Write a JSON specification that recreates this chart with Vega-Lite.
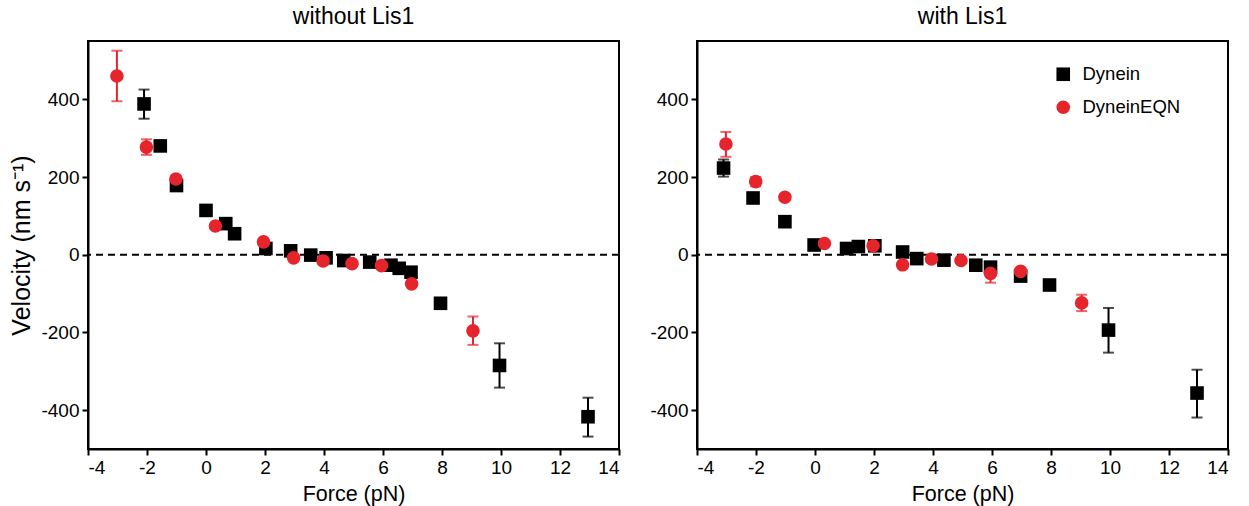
{
  "$schema": "https://vega.github.io/schema/vega-lite/v6.json",
  "padding": {"left": 8, "top": 5, "right": 5, "bottom": 5},
  "background": "white",
  "config": {
    "font": "Liberation Sans",
    "view": {"stroke": "#000", "strokeWidth": 2},
    "axis": {"domainColor": "#000", "domainWidth": 2, "tickColor": "#000", "tickWidth": 2, "tickSize": 6, "labelColor": "#000", "labelFontSize": 19, "labelFont": "Liberation Sans", "titleColor": "#000", "titleFont": "Liberation Sans", "titleFontWeight": "normal", "grid": false, "labelPadding": 3, "labelExpr": "replace(datum.label, '−', '-')"},
    "title": {"fontSize": 23, "fontWeight": "normal", "color": "#000", "font": "Liberation Sans", "offset": 12},
    "legend": {"labelFont": "Liberation Sans", "labelFontSize": 18.5, "labelColor": "#000"}
  },
  "datasets": {
    "without": [
      {"series": "Dynein", "force": -2.1, "velocity": 388, "lo": 350, "hi": 425},
      {"series": "Dynein", "force": -1.55, "velocity": 280, "lo": 268, "hi": 292},
      {"series": "Dynein", "force": -1.0, "velocity": 178, "lo": 170, "hi": 186},
      {"series": "Dynein", "force": 0.0, "velocity": 114, "lo": 107, "hi": 121},
      {"series": "Dynein", "force": 0.67, "velocity": 80, "lo": 74, "hi": 86},
      {"series": "Dynein", "force": 0.97, "velocity": 54, "lo": 48, "hi": 60},
      {"series": "Dynein", "force": 2.03, "velocity": 16, "lo": 10, "hi": 22},
      {"series": "Dynein", "force": 2.87, "velocity": 10, "lo": 4, "hi": 16},
      {"series": "Dynein", "force": 3.55, "velocity": -1, "lo": -7, "hi": 5},
      {"series": "Dynein", "force": 4.07, "velocity": -8, "lo": -14, "hi": -2},
      {"series": "Dynein", "force": 4.67, "velocity": -15, "lo": -21, "hi": -9},
      {"series": "Dynein", "force": 5.55, "velocity": -19, "lo": -25, "hi": -13},
      {"series": "Dynein", "force": 6.27, "velocity": -27, "lo": -33, "hi": -21},
      {"series": "Dynein", "force": 6.55, "velocity": -35, "lo": -41, "hi": -29},
      {"series": "Dynein", "force": 6.95, "velocity": -45, "lo": -52, "hi": -38},
      {"series": "Dynein", "force": 7.95, "velocity": -125, "lo": -131, "hi": -119},
      {"series": "Dynein", "force": 9.95, "velocity": -285, "lo": -342, "hi": -228},
      {"series": "Dynein", "force": 12.95, "velocity": -417, "lo": -468, "hi": -368},
      {"series": "DyneinEQN", "force": -3.02, "velocity": 460, "lo": 395, "hi": 525},
      {"series": "DyneinEQN", "force": -2.02, "velocity": 277, "lo": 257, "hi": 297},
      {"series": "DyneinEQN", "force": -1.02, "velocity": 195, "lo": 187, "hi": 203},
      {"series": "DyneinEQN", "force": 0.32, "velocity": 74, "lo": 68, "hi": 80},
      {"series": "DyneinEQN", "force": 1.95, "velocity": 33, "lo": 27, "hi": 39},
      {"series": "DyneinEQN", "force": 2.97, "velocity": -8, "lo": -14, "hi": -2},
      {"series": "DyneinEQN", "force": 3.97, "velocity": -16, "lo": -22, "hi": -10},
      {"series": "DyneinEQN", "force": 4.95, "velocity": -23, "lo": -29, "hi": -17},
      {"series": "DyneinEQN", "force": 5.95, "velocity": -28, "lo": -34, "hi": -22},
      {"series": "DyneinEQN", "force": 6.97, "velocity": -75, "lo": -81, "hi": -69},
      {"series": "DyneinEQN", "force": 9.05, "velocity": -196, "lo": -232, "hi": -159}
    ],
    "with": [
      {"series": "Dynein", "force": -3.1, "velocity": 223, "lo": 201, "hi": 245},
      {"series": "Dynein", "force": -2.1, "velocity": 146, "lo": 136, "hi": 156},
      {"series": "Dynein", "force": -1.02, "velocity": 85, "lo": 73, "hi": 97},
      {"series": "Dynein", "force": -0.03, "velocity": 25, "lo": 18, "hi": 32},
      {"series": "Dynein", "force": 1.07, "velocity": 16, "lo": 10, "hi": 22},
      {"series": "Dynein", "force": 1.47, "velocity": 21, "lo": 15, "hi": 27},
      {"series": "Dynein", "force": 2.03, "velocity": 23, "lo": 11, "hi": 35},
      {"series": "Dynein", "force": 2.97, "velocity": 7, "lo": 0, "hi": 14},
      {"series": "Dynein", "force": 3.45, "velocity": -10, "lo": -16, "hi": -4},
      {"series": "Dynein", "force": 4.37, "velocity": -14, "lo": -20, "hi": -8},
      {"series": "Dynein", "force": 5.45, "velocity": -27, "lo": -33, "hi": -21},
      {"series": "Dynein", "force": 5.95, "velocity": -32, "lo": -38, "hi": -26},
      {"series": "Dynein", "force": 6.97, "velocity": -55, "lo": -61, "hi": -49},
      {"series": "Dynein", "force": 7.95, "velocity": -78, "lo": -86, "hi": -70},
      {"series": "Dynein", "force": 9.95, "velocity": -194, "lo": -252, "hi": -137},
      {"series": "Dynein", "force": 12.95, "velocity": -356, "lo": -419, "hi": -296},
      {"series": "DyneinEQN", "force": -3.02, "velocity": 285, "lo": 252, "hi": 316},
      {"series": "DyneinEQN", "force": -2.01, "velocity": 188, "lo": 176, "hi": 200},
      {"series": "DyneinEQN", "force": -1.02, "velocity": 148, "lo": 140, "hi": 156},
      {"series": "DyneinEQN", "force": 0.32, "velocity": 29, "lo": 23, "hi": 35},
      {"series": "DyneinEQN", "force": 1.97, "velocity": 23, "lo": 12, "hi": 34},
      {"series": "DyneinEQN", "force": 2.97, "velocity": -26, "lo": -32, "hi": -20},
      {"series": "DyneinEQN", "force": 3.95, "velocity": -11, "lo": -17, "hi": -5},
      {"series": "DyneinEQN", "force": 4.95, "velocity": -15, "lo": -21, "hi": -9},
      {"series": "DyneinEQN", "force": 5.95, "velocity": -48, "lo": -72, "hi": -24},
      {"series": "DyneinEQN", "force": 6.97, "velocity": -43, "lo": -52, "hi": -34},
      {"series": "DyneinEQN", "force": 9.04, "velocity": -124, "lo": -145, "hi": -103}
    ]
  },
  "spacing": 27,
  "hconcat": [
    {
      "title": "without Lis1",
      "width": 531,
      "height": 408,
      "data": {"name": "without"},
      "encoding": {
        "x": {"field": "force", "type": "quantitative", "scale": {"domain": [-4, 14], "nice": false, "zero": false}, "axis": {"values": [-4, -2, 0, 2, 4, 6, 8, 10, 12, 14], "title": "Force (pN)", "titleFontSize": 21.5, "titlePadding": 6}}
      },
      "layer": [
        {"data": {"values": [{}]}, "mark": {"type": "rule", "strokeDash": [7, 5], "strokeWidth": 2, "color": "#000"}, "encoding": {"y": {"datum": 0, "type": "quantitative"}, "x": null}},
        {"mark": {"type": "rule", "strokeWidth": 2}, "encoding": {
          "y": {"field": "lo", "type": "quantitative", "scale": {"domain": [-500, 550], "nice": false}, "axis": {"values": [-400, -200, 0, 200, 400], "title": "Velocity (nm s⁻¹)", "titleFontSize": 25, "titlePadding": 6}},
          "y2": {"field": "hi"},
          "color": {"field": "series", "type": "nominal", "scale": {"domain": ["Dynein", "DyneinEQN"], "range": ["#000000", "#e6242b"]}, "legend": null}}},
        {"mark": {"type": "tick", "orient": "horizontal", "size": 11, "thickness": 2}, "encoding": {
          "y": {"field": "lo", "type": "quantitative"},
          "color": {"field": "series", "type": "nominal", "legend": null}}},
        {"mark": {"type": "tick", "orient": "horizontal", "size": 11, "thickness": 2}, "encoding": {
          "y": {"field": "hi", "type": "quantitative"},
          "color": {"field": "series", "type": "nominal", "legend": null}}},
        {"mark": {"type": "point", "filled": true, "opacity": 1, "size": 185}, "encoding": {
          "y": {"field": "velocity", "type": "quantitative"},
          "color": {"field": "series", "type": "nominal", "legend": null},
          "shape": {"field": "series", "type": "nominal", "scale": {"domain": ["Dynein", "DyneinEQN"], "range": ["square", "circle"]}, "legend": null}}}
      ]
    },
    {
      "title": "with Lis1",
      "width": 531,
      "height": 408,
      "data": {"name": "with"},
      "encoding": {
        "x": {"field": "force", "type": "quantitative", "scale": {"domain": [-4, 14], "nice": false, "zero": false}, "axis": {"values": [-4, -2, 0, 2, 4, 6, 8, 10, 12, 14], "title": "Force (pN)", "titleFontSize": 21.5, "titlePadding": 6}}
      },
      "resolve": {"scale": {"color": "independent", "shape": "independent"}, "legend": {"color": "independent", "shape": "independent"}},
      "layer": [
        {"data": {"values": [{}]}, "mark": {"type": "rule", "strokeDash": [7, 5], "strokeWidth": 2, "color": "#000"}, "encoding": {"y": {"datum": 0, "type": "quantitative"}, "x": null}},
        {"mark": {"type": "rule", "strokeWidth": 2}, "encoding": {
          "y": {"field": "lo", "type": "quantitative", "scale": {"domain": [-500, 550], "nice": false}, "axis": {"values": [-400, -200, 0, 200, 400], "title": null}},
          "y2": {"field": "hi"},
          "color": {"field": "series", "type": "nominal", "scale": {"domain": ["Dynein", "DyneinEQN"], "range": ["#000000", "#e6242b"]}, "legend": null}}},
        {"mark": {"type": "tick", "orient": "horizontal", "size": 11, "thickness": 2}, "encoding": {
          "y": {"field": "lo", "type": "quantitative"},
          "color": {"field": "series", "type": "nominal", "scale": {"domain": ["Dynein", "DyneinEQN"], "range": ["#000000", "#e6242b"]}, "legend": null}}},
        {"mark": {"type": "tick", "orient": "horizontal", "size": 11, "thickness": 2}, "encoding": {
          "y": {"field": "hi", "type": "quantitative"},
          "color": {"field": "series", "type": "nominal", "scale": {"domain": ["Dynein", "DyneinEQN"], "range": ["#000000", "#e6242b"]}, "legend": null}}},
        {"mark": {"type": "point", "filled": true, "opacity": 1, "size": 185}, "encoding": {
          "y": {"field": "velocity", "type": "quantitative"},
          "color": {"field": "series", "type": "nominal", "scale": {"domain": ["Dynein", "DyneinEQN"], "range": ["#000000", "#e6242b"]}, "legend": {"title": null, "orient": "none", "legendX": 357, "legendY": 24, "padding": 0, "symbolSize": 185, "rowPadding": 14, "labelOffset": 10, "symbolStrokeWidth": 0}},
          "shape": {"field": "series", "type": "nominal", "scale": {"domain": ["Dynein", "DyneinEQN"], "range": ["square", "circle"]}, "legend": {"title": null, "orient": "none", "legendX": 357, "legendY": 24, "padding": 0, "symbolSize": 185, "rowPadding": 14, "labelOffset": 10, "symbolStrokeWidth": 0}}}}
      ]
    }
  ],
  "resolve": {"scale": {"color": "independent", "shape": "independent", "y": "independent"}, "legend": {"color": "independent", "shape": "independent"}}
}
